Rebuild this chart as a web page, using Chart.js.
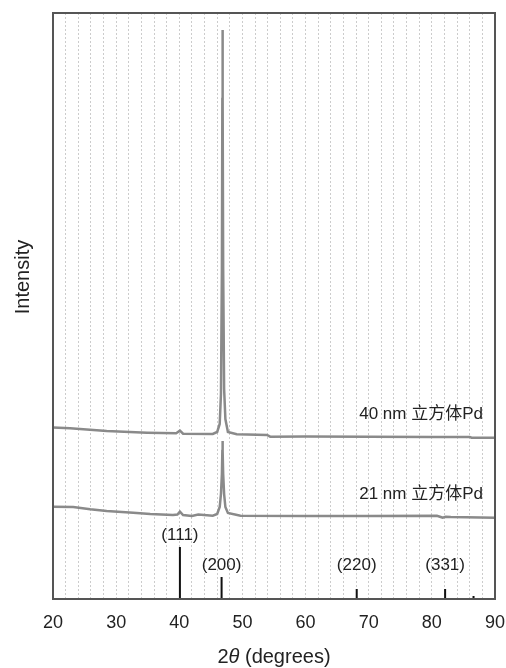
<!doctype html>
<html>

<head>
    <title>XRD</title>
    <script src="https://cdn.jsdelivr.net/npm/chart.js"></script>
    <style>
        body { margin: 0; background: #fff; }
        #box { width: 506px; height: 668px; }
    </style>
</head>

<body>
    <div id="box">
        <canvas id="xrd"></canvas>
    </div>

    <script>
        // 40 nm cubes (upper curve), intensity in arbitrary units
        var theta40 = [20, 22.7, 24.8, 28.5, 34.9, 39.5, 40.1, 40.6, 45.3, 46.0, 46.4, 46.6, 46.75, 46.82, 46.85, 46.88, 46.95, 47.1, 47.3, 47.7, 49.1, 53.9, 54.4, 60, 70, 80, 86, 86.3, 90];
        var int40 = [171.5, 170.7, 169.7, 168, 166.3, 165.7, 168.3, 165.3, 165, 167, 175, 205, 330, 500, 569, 500, 330, 210, 180, 167, 164.7, 164, 162.3, 162.5, 162.3, 162, 162, 161.3, 161.3];

        // 21 nm cubes (lower curve)
        var theta21 = [20, 23.2, 25.9, 28.5, 32.7, 35.4, 39, 39.7, 40.1, 40.6, 42, 43, 45.3, 46.0, 46.4, 46.6, 46.75, 46.82, 46.85, 46.88, 46.95, 47.1, 47.3, 47.7, 49.7, 60, 70, 80.8, 81.4, 81.7, 82.2, 83, 90];
        var int21 = [92.3, 92, 89.7, 88, 86.3, 85, 84, 84.5, 87.3, 84, 83, 84.5, 83.3, 85, 92, 105, 125, 148, 158, 148, 125, 105, 92, 86, 83.3, 83, 83, 83.3, 82, 81.3, 82.3, 82, 81.3];

        // reference pattern sticks for Pd
        var stickPos = [40.1, 46.7, 68.1, 82.1, 86.6];
        var stickHeight = [52, 22, 10, 10, 3];
        var stickLabels = ['(111)', '(200)', '(220)', '(331)', ''];

        var seriesLabels = ['40 nm 立方体Pd', '21 nm 立方体Pd'];

        function pts(xs, ys) {
            return xs.map(function (x, i) { return { x: x, y: ys[i] }; });
        }

        var sticks = [];
        stickPos.forEach(function (p, i) {
            sticks.push({ x: p, y: 0 });
            sticks.push({ x: p, y: stickHeight[i] });
            sticks.push({ x: p, y: null });
        });

        var latin = '"Liberation Sans", Arial, sans-serif';
        var cjk = '"Liberation Sans", "Noto Sans CJK SC", sans-serif';

        // frame, annotations and axis titles
        var extras = {
            id: 'extras',
            afterDraw: function (chart) {
                var ctx = chart.ctx;
                var a = chart.chartArea;
                var xs = chart.scales.x, ys = chart.scales.y;
                ctx.save();
                ctx.strokeStyle = '#555';
                ctx.lineWidth = 2;
                ctx.strokeRect(a.left, a.top, a.right - a.left, a.bottom - a.top);

                ctx.fillStyle = '#222';
                ctx.textAlign = 'center';
                ctx.textBaseline = 'middle';
                ctx.font = '17px ' + latin;
                stickLabels.forEach(function (t, i) {
                    if (!t) return;
                    var top = ys.getPixelForValue(Math.max(stickHeight[i], 22));
                    ctx.fillText(t, xs.getPixelForValue(stickPos[i]), top - 12);
                });

                ctx.font = '17px ' + cjk;
                ctx.textAlign = 'right';
                var lasts = [int40[int40.length - 1], int21[int21.length - 1]];
                seriesLabels.forEach(function (t, i) {
                    ctx.fillText(t, xs.getPixelForValue(88.1), ys.getPixelForValue(lasts[i]) - 23);
                });

                // y title
                ctx.save();
                ctx.translate(23, 277);
                ctx.rotate(-Math.PI / 2);
                ctx.textAlign = 'center';
                ctx.font = '20px ' + latin;
                ctx.fillText('Intensity', 0, 0);
                ctx.restore();

                // x title with italic theta
                var y = 657;
                var parts = [['2', ''], ['θ', 'italic '], [' (degrees)', '']];
                var w = 0;
                parts.forEach(function (p) {
                    ctx.font = p[1] + '20px ' + latin;
                    w += ctx.measureText(p[0]).width;
                });
                var x = (a.left + a.right) / 2 - w / 2;
                ctx.textAlign = 'left';
                parts.forEach(function (p) {
                    ctx.font = p[1] + '20px ' + latin;
                    ctx.fillText(p[0], x, y);
                    x += ctx.measureText(p[0]).width;
                });
                ctx.restore();
            }
        };

        var grafico = new Chart(document.getElementById('xrd').getContext('2d'), {
            type: 'line',
            data: {
                datasets: [{
                    label: seriesLabels[0],
                    data: pts(theta40, int40),
                    borderColor: '#8a8a8a',
                    borderWidth: 2.5,
                    pointRadius: 0,
                    tension: 0
                }, {
                    label: seriesLabels[1],
                    data: pts(theta21, int21),
                    borderColor: '#8a8a8a',
                    borderWidth: 2.5,
                    pointRadius: 0,
                    tension: 0
                }, {
                    label: 'Pd',
                    data: sticks,
                    borderColor: '#111',
                    borderWidth: 2,
                    pointRadius: 0,
                    spanGaps: false
                }]
            },
            options: {
                animation: false,
                responsive: true,
                maintainAspectRatio: false,
                layout: { padding: { left: 0, right: 0, top: 13, bottom: 0 } },
                plugins: { legend: { display: false }, tooltip: { enabled: false } },
                scales: {
                    x: {
                        type: 'linear',
                        min: 20,
                        max: 90,
                        border: { display: false, dash: [2, 2] },
                        grid: { color: '#cccccc', lineWidth: 1, drawTicks: false },
                        ticks: {
                            stepSize: 2,
                            autoSkip: false,
                            maxRotation: 0,
                            padding: 13,
                            color: '#222',
                            font: { family: latin, size: 18 },
                            callback: function (value) {
                                return value % 10 === 0 ? value : '';
                            }
                        },
                        afterFit: function (s) {
                            s.height = 69;
                            s.paddingLeft = 0;
                            s.paddingRight = 11;
                        }
                    },
                    y: {
                        min: 0,
                        max: 586,
                        border: { display: false },
                        grid: { display: false },
                        ticks: { display: false },
                        afterFit: function (s) { s.width = 53; }
                    }
                }
            },
            plugins: [extras]
        });
    </script>
</body>

</html>
